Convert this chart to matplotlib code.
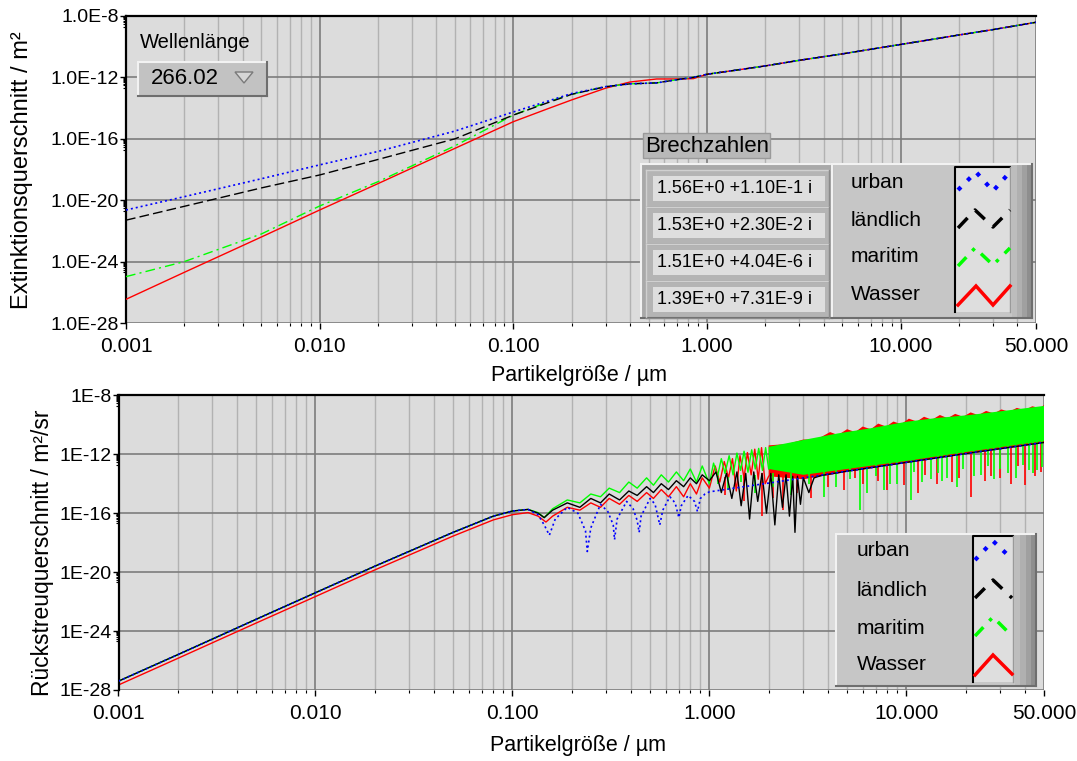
import numpy as np
import matplotlib.pyplot as plt
from matplotlib.patches import Rectangle, Polygon
from matplotlib.ticker import FixedLocator, FixedFormatter, NullFormatter, LogLocator

plt.rcParams['font.family'] = ['Liberation Sans', 'DejaVu Sans']

# ---------------- Extinktion (oben) ----------------
x_ext_small = [0.001, 0.002, 0.005, 0.01, 0.02, 0.05, 0.1, 0.15, 0.2, 0.3, 0.4, 0.55, 0.7, 0.85]
ext_urban = [2.3e-21, 1.7e-20, 2.5e-19, 2.0e-18, 1.5e-17, 3.2e-16, 5.6e-15, 2.8e-14, 8.9e-14,
             2.5e-13, 3.8e-13, 4.4e-13, 7.1e-13, 1.0e-12]
ext_laendlich = [5.0e-22, 4.0e-21, 6.3e-20, 4.4e-19, 4.5e-18, 1.0e-16, 3.5e-15, 2.2e-14, 7.9e-14,
                 2.5e-13, 3.8e-13, 4.4e-13, 7.1e-13, 1.0e-12]
ext_maritim = [1.05e-25, 1.0e-24, 6.3e-23, 4.2e-21, 1.6e-19, 3.5e-17, 3.5e-15, 2.5e-14, 7.9e-14,
               2.5e-13, 3.8e-13, 4.4e-13, 7.1e-13, 1.0e-12]
ext_wasser = [3.5e-27, 2.0e-25, 4.0e-23, 2.3e-21, 1.2e-19, 2.4e-17, 1.3e-15, 8.9e-15, 3.4e-14,
              2.0e-13, 5.0e-13, 7.9e-13, 7.9e-13, 8.3e-13]
# grosse Teilchen: alle vier Kurven fallen zusammen
x_ext_large = [1.0, 1.5, 2.0, 3.0, 5.0, 7.0, 10.0, 15.0, 20.0, 30.0, 50.0]
ext_large = [1.6e-12, 3.3e-12, 5.6e-12, 1.3e-11, 3.4e-11, 6.8e-11, 1.4e-10, 3.2e-10, 5.8e-10,
             1.3e-9, 3.9e-9]

# ---------------- Rueckstreuung (unten) ----------------
x_bs_urban = [0.001, 0.002, 0.005, 0.01, 0.02, 0.05, 0.08, 0.1, 0.12, 0.135, 0.145, 0.154, 0.165,
              0.19, 0.215, 0.235, 0.24, 0.25, 0.28, 0.305, 0.325, 0.33, 0.34, 0.38, 0.41, 0.43,
              0.44, 0.45, 0.5, 0.53, 0.56, 0.58, 0.63, 0.67, 0.7, 0.72, 0.78, 0.84, 0.87, 0.9,
              0.95, 1.0, 1.5, 2.0, 3.0, 5.0, 10.0, 20.0, 50.0]
bs_urban = [4.0e-28, 2.5e-26, 6.3e-24, 4.0e-22, 2.5e-20, 5.0e-18, 6.3e-17, 1.4e-16, 1.8e-16, 7.9e-17,
            1.6e-17, 3.2e-18, 4.0e-17, 2.5e-16, 1.0e-16, 6.3e-18, 2.5e-19, 1.0e-17, 4.0e-16, 1.3e-16,
            1.6e-17, 1.6e-18, 4.0e-17, 6.3e-16, 2.0e-16, 3.2e-17, 5.0e-18, 6.3e-17, 1.0e-15, 4.0e-16,
            1.6e-17, 1.6e-16, 1.3e-15, 5.0e-16, 5.0e-17, 3.2e-16, 1.6e-15, 6.3e-16, 1.3e-16, 1.0e-15,
            2.0e-15, 2.8e-15, 6.3e-15, 1.1e-14, 2.5e-14, 7.1e-14, 2.8e-13, 1.1e-12, 6.3e-12]

x_bs_laendlich = [0.001, 0.002, 0.005, 0.01, 0.02, 0.05, 0.08, 0.1, 0.12, 0.135, 0.145, 0.16, 0.19,
                  0.22, 0.25, 0.28, 0.31, 0.35, 0.39, 0.43, 0.48, 0.52, 0.57, 0.62, 0.68, 0.74, 0.8,
                  0.86, 0.92, 1.0, 1.08, 1.15, 1.22, 1.3, 1.38, 1.45, 1.53, 1.6, 1.68, 1.76, 1.85,
                  1.95, 2.05, 2.15, 2.25, 2.35, 2.45, 2.55, 2.65, 2.72, 2.8, 2.9, 3.0, 3.2, 3.4,
                  3.7, 5.0, 10.0, 20.0, 50.0]
bs_laendlich = [4.0e-28, 2.5e-26, 6.3e-24, 4.0e-22, 2.5e-20, 5.0e-18, 6.3e-17, 1.4e-16, 1.8e-16,
                1.0e-16, 5.0e-17, 1.6e-16, 5.0e-16, 2.5e-16, 1.0e-15, 5.0e-16, 2.0e-15, 7.9e-16,
                3.2e-15, 1.6e-15, 6.3e-15, 2.5e-15, 1.0e-14, 4.0e-15, 1.6e-14, 6.3e-15, 2.5e-14,
                1.0e-14, 4.0e-14, 1.6e-14, 6.3e-14, 2.5e-15, 5.0e-14, 1.0e-15, 6.3e-14, 3.2e-16,
                5.0e-14, 4.0e-17, 6.3e-14, 6.3e-16, 5.0e-14, 1.0e-16, 5.0e-14, 1.6e-17, 4.0e-14,
                2.5e-16, 4.0e-14, 6.3e-17, 3.2e-14, 5.0e-18, 3.2e-14, 4.0e-16, 2.5e-14, 2.5e-15,
                2.5e-14, 3.6e-14, 7.1e-14, 2.8e-13, 1.1e-12, 6.3e-12]

x_bs_maritim = [0.001, 0.002, 0.005, 0.01, 0.02, 0.05, 0.08, 0.1, 0.12, 0.135, 0.145, 0.16, 0.19,
                0.22, 0.25, 0.28, 0.31, 0.35, 0.39, 0.43, 0.48, 0.52, 0.57, 0.62, 0.68, 0.74, 0.8,
                0.86, 0.92, 1.0, 1.05, 1.1, 1.15, 1.2, 1.26, 1.32, 1.38, 1.44, 1.5, 1.57, 1.64,
                1.71, 1.78, 1.86, 1.93, 2.0]
bs_maritim = [4.0e-28, 2.5e-26, 6.3e-24, 4.0e-22, 2.5e-20, 5.0e-18, 6.3e-17, 1.4e-16, 1.8e-16,
              1.1e-16, 5.0e-17, 2.0e-16, 7.9e-16, 5.0e-16, 2.0e-15, 1.3e-15, 5.0e-15, 2.5e-15,
              1.3e-14, 5.0e-15, 2.5e-14, 7.9e-15, 4.0e-14, 1.3e-14, 6.3e-14, 1.6e-14, 1.0e-13,
              1.3e-14, 1.6e-13, 1.0e-14, 2.5e-13, 3.2e-14, 5.0e-13, 5.0e-14, 8.0e-13, 4.0e-14,
              1.2e-12, 8.0e-14, 1.6e-12, 6.0e-14, 2.0e-12, 1.0e-13, 2.5e-12, 8.0e-14, 2.8e-12,
              1.0e-13]
# dichtes Band maritim (>2 um)
x_mar_hi = [2.0, 3.0, 4.5, 6.6, 10.0, 14.0, 21.0, 32.0, 50.0]
mar_hi = [3.2e-12, 9.3e-12, 2.6e-11, 5.8e-11, 1.6e-10, 2.8e-10, 4.6e-10, 9.1e-10, 1.9e-9]
x_mar_lo = [2.0, 3.0, 5.0, 10.0, 20.0, 50.0]
mar_lo = [1.0e-13, 4.0e-14, 1.0e-13, 3.5e-13, 1.4e-12, 7.9e-12]
mar_spike_x = [1.1, 1.25, 1.45, 1.7, 2.1, 2.6, 3.2, 3.8, 4.4, 5.8, 6.3, 7.7, 9.0, 10.5, 12.0, 13.3,
               16.0, 18.0, 24.0, 28.0, 33.0, 36.0, 42.0, 46.0, 49.0,
               5.2, 7.0, 8.3, 11.0, 14.5, 15.2, 19.5, 22.0, 26.0, 30.0, 39.0, 44.0]
mar_spike_lo = [1.0e-14, 4.0e-15, 1.3e-14, 2.5e-15, 6.3e-15, 1.6e-15, 1.0e-14, 1.3e-15, 6.3e-15,
                1.6e-16, 2.5e-15, 4.0e-15, 1.0e-14, 7.9e-16, 1.3e-14, 2.0e-14, 2.5e-14, 6.3e-15,
                4.0e-14, 2.0e-14, 5.0e-14, 2.5e-14, 7.9e-14, 7.9e-14, 1.3e-13,
                2.0e-14, 3.2e-14, 1.0e-14, 6.3e-14, 5.0e-14, 1.6e-14, 1.0e-13, 3.2e-14, 1.6e-13,
                1.0e-13, 2.0e-13, 5.0e-14]
mar_spike_hi = [3e-14, 3e-14, 4e-14, 4e-14, 5e-14, 5e-14, 5e-14, 6e-14, 8e-14, 1.2e-13, 1.4e-13,
                2e-13, 3e-13, 4e-13, 5e-13, 6e-13, 9e-13, 1.2e-12, 2e-12, 2.6e-12, 3.5e-12, 4e-12,
                5.5e-12, 6.5e-12, 7.5e-12,
                2.5e-13, 4e-13, 6e-13, 1e-12, 1.8e-12, 2e-12, 3e-12, 3.5e-12, 5e-12, 6e-12, 9e-12,
                1e-11]

x_bs_wasser = [0.001, 0.002, 0.005, 0.01, 0.02, 0.05, 0.08, 0.1, 0.12, 0.135, 0.148, 0.16, 0.19,
               0.22, 0.25, 0.28, 0.31, 0.35, 0.39, 0.43, 0.48, 0.52, 0.57, 0.62, 0.68, 0.74, 0.8,
               0.86, 0.92, 1.0, 1.07, 1.13, 1.19, 1.25, 1.31, 1.37, 1.43, 1.5, 1.56, 1.63, 1.7,
               1.77, 1.84, 1.92, 2.0]
bs_wasser = [2.2e-28, 1.4e-26, 3.5e-24, 2.2e-22, 1.4e-20, 2.8e-18, 3.5e-17, 7.9e-17, 1.1e-16,
             6.3e-17, 2.5e-17, 6.3e-17, 2.5e-16, 1.6e-16, 5.0e-16, 2.5e-16, 1.0e-15, 4.0e-16,
             1.6e-15, 6.3e-16, 2.5e-15, 1.0e-15, 4.0e-15, 1.3e-15, 6.3e-15, 1.3e-15, 1.0e-14,
             2.0e-15, 2.5e-14, 5.0e-15, 1.6e-13, 1.3e-14, 3.2e-13, 2.5e-14, 5.0e-13, 3.2e-15,
             8.0e-13, 2.5e-14, 1.3e-12, 4.0e-14, 2.2e-12, 2.0e-14, 2.8e-12, 1.0e-14, 3.2e-14]
x_was_hi = [2.0, 2.5, 3.0, 3.5, 4.1, 4.5, 5.0, 5.5, 6.0, 6.6, 7.2, 7.9, 8.6, 9.4, 10.3,
            11.3, 12.3, 13.5, 14.8, 16.2, 17.7, 19.4, 21.2, 23.2, 25.4, 27.8, 30.4, 33.3, 36.4,
            39.8, 43.6, 47.7, 50.0]
was_hi = [4.0e-12, 5.0e-12, 1.0e-11, 1.0e-11, 3.2e-11, 2.0e-11, 5.0e-11, 3.2e-11,
          7.6e-11, 5.0e-11, 1.2e-10, 7.6e-11, 1.66e-10, 1.1e-10, 2.6e-10, 1.66e-10, 3.5e-10, 2.2e-10,
          4.6e-10, 2.8e-10, 5.5e-10, 3.5e-10, 6.9e-10, 4.5e-10, 8.7e-10, 5.9e-10, 1.1e-9, 7.6e-10,
          1.4e-9, 1.0e-9, 1.8e-9, 1.35e-9, 2.2e-9]
x_was_lo = [2.0, 3.0, 5.0, 10.0, 20.0, 50.0]
was_lo = [3.2e-14, 2.0e-14, 6.3e-14, 2.5e-13, 1.0e-12, 5.6e-12]
was_spike_x = [1.2, 1.5, 1.85, 2.1, 2.36, 2.8, 3.3, 4.0, 4.8, 6.0, 8.0, 9.7, 11.5, 14.3, 17.0, 21.3,
               25.0, 30.0, 34.0, 40.0, 45.0, 5.5, 7.2, 12.5, 18.5, 27.0, 37.0, 48.0]
was_spike_lo = [1.6e-15, 6.3e-16, 6.3e-17, 1.0e-15, 1.6e-16, 2.5e-15, 1.0e-15, 6.3e-15, 4.0e-15,
                1.0e-14, 4.0e-15, 7.9e-15, 2.5e-15, 1.0e-14, 1.3e-14, 1.3e-15, 1.6e-14, 2.5e-14,
                1.0e-14, 7.9e-15, 3.2e-14, 2.5e-14, 1.6e-14, 4.0e-14, 2.5e-14, 3.2e-14, 1.6e-13,
                6.3e-14]
was_spike_hi = [3e-14, 4e-14, 5e-14, 5e-14, 5e-14, 5e-14, 5e-14, 7e-14, 9e-14, 1.4e-13, 2.4e-13,
                3.2e-13, 4.5e-13, 7e-13, 9e-13, 1.4e-12, 2e-12, 2.6e-12, 3.2e-12, 4.2e-12, 5e-12,
                1.2e-13, 1.8e-13, 5e-13, 1.2e-12, 2.2e-12, 3.6e-12, 5.5e-12]

# ---------------- Achsen / Texte ----------------
x_ticks = [0.001, 0.01, 0.1, 1.0, 10.0, 50.0]
x_tick_labels = ['0.001', '0.010', '0.100', '1.000', '10.000', '50.000']
y_ticks = [1e-28, 1e-24, 1e-20, 1e-16, 1e-12, 1e-8]
y_labels_top = ['1.0E-28', '1.0E-24', '1.0E-20', '1.0E-16', '1.0E-12', '1.0E-8']
y_labels_bot = ['1E-28', '1E-24', '1E-20', '1E-16', '1E-12', '1E-8']
series_names = ['urban', 'ländlich', 'maritim', 'Wasser']
brechzahlen = ['1.56E+0 +1.10E-1 i', '1.53E+0 +2.30E-2 i', '1.51E+0 +4.04E-6 i', '1.39E+0 +7.31E-9 i']
wellenlaenge = '266.02'

C_URB, C_LAN, C_MAR, C_WAS = '#0000ff', '#000000', '#00ff00', '#ff0000'
LS_URB = (0, (1.2, 1.8))
LS_LAN = (0, (7, 3))
LS_MAR = (0, (7, 3, 1.5, 3))

W, H = 1077, 761
fig = plt.figure(figsize=(W / 100, H / 100), dpi=100)
fig.patch.set_facecolor('white')


def setup_axes(ax, ylabels):
    ax.set_facecolor('#dcdcdc')
    ax.set_xscale('log')
    ax.set_yscale('log')
    ax.set_xlim(0.001, 50)
    ax.set_ylim(1e-28, 1e-8)
    ax.xaxis.set_major_locator(FixedLocator(x_ticks))
    ax.xaxis.set_major_formatter(FixedFormatter(x_tick_labels))
    ax.xaxis.set_minor_locator(LogLocator(base=10, subs=np.arange(2, 10)))
    ax.xaxis.set_minor_formatter(NullFormatter())
    ax.yaxis.set_major_locator(FixedLocator(y_ticks))
    ax.yaxis.set_major_formatter(FixedFormatter(ylabels))
    minors = [k * t / 10 for t in y_ticks for k in range(2, 10)]
    ax.yaxis.set_minor_locator(FixedLocator(minors))
    ax.yaxis.set_minor_formatter(NullFormatter())
    ax.grid(True, which='minor', axis='x', color='#b2b2b2', lw=1.0)
    ax.grid(True, which='major', axis='x', color='#7c7c7c', lw=1.2)
    ax.grid(True, which='major', axis='y', color='#7c7c7c', lw=1.2)
    ax.set_axisbelow(True)
    ax.tick_params(which='major', direction='out', length=4, width=1, color='black')
    ax.tick_params(which='minor', direction='out', length=2.5, width=0.8, color='black')
    ax.tick_params(axis='x', which='major', pad=6, labelsize=15)
    ax.tick_params(axis='y', which='major', pad=1, labelsize=14)
    for s in ['right', 'bottom']:
        ax.spines[s].set_visible(False)
    for s in ['top', 'left']:
        ax.spines[s].set_color('black')
        ax.spines[s].set_linewidth(1.6)


# oben
ax1 = fig.add_axes([126 / W, 1 - 323 / H, (1036 - 126) / W, (323 - 16) / H])
setup_axes(ax1, y_labels_top)
ax1.plot(x_ext_small + x_ext_large, ext_wasser + ext_large, color=C_WAS, lw=1.0, zorder=3)
ax1.plot(x_ext_small + x_ext_large, ext_maritim + ext_large, color=C_MAR, lw=1.0, ls=LS_MAR, zorder=4)
ax1.plot(x_ext_small + x_ext_large, ext_laendlich + ext_large, color=C_LAN, lw=1.0, ls=LS_LAN, zorder=5)
ax1.plot(x_ext_small + x_ext_large, ext_urban + ext_large, color=C_URB, lw=1.2, ls=LS_URB, zorder=6)

# unten
ax2 = fig.add_axes([118.5 / W, 1 - 690 / H, (1044 - 118.5) / W, (690 - 395.3) / H])
setup_axes(ax2, y_labels_bot)
ax2.fill(x_was_hi + x_was_lo[::-1], was_hi + was_lo[::-1], color=C_WAS, lw=0, zorder=2)
ax2.vlines(was_spike_x, was_spike_lo, was_spike_hi, color=C_WAS, lw=1.2, zorder=2)
ax2.plot(x_bs_wasser, bs_wasser, color=C_WAS, lw=1.0, zorder=2)
ax2.fill(x_mar_hi + x_mar_lo[::-1], mar_hi + mar_lo[::-1], color=C_MAR, lw=0, zorder=3)
ax2.vlines(mar_spike_x, mar_spike_lo, mar_spike_hi, color=C_MAR, lw=1.2, zorder=3)
ax2.plot(x_bs_maritim, bs_maritim, color=C_MAR, lw=1.0, zorder=3)
ax2.plot(x_bs_laendlich, bs_laendlich, color=C_LAN, lw=1.0, zorder=4)
ax2.plot(x_bs_urban, bs_urban, color=C_URB, lw=1.2, ls=LS_URB, zorder=5)

# ---------------- Bedienelemente (Overlay in Pixeln) ----------------
ov = fig.add_axes([0, 0, 1, 1], zorder=10)
ov.set_xlim(0, W)
ov.set_ylim(H, 0)
ov.axis('off')
ov.patch.set_alpha(0)


def raised(x0, y0, x1, y1, face, light='#f2f2f2', dark='#6e6e6e', lw=1.5):
    ov.add_patch(Rectangle((x0, y0), x1 - x0, y1 - y0, facecolor=face, edgecolor='none'))
    ov.plot([x0, x1], [y0, y0], color=light, lw=lw)
    ov.plot([x0, x0], [y0, y1], color=light, lw=lw)
    ov.plot([x0, x1], [y1, y1], color=dark, lw=lw)
    ov.plot([x1, x1], [y0, y1], color=dark, lw=lw)


# Achsentitel
ov.text(579, 376, 'Partikelgröße / µm', ha='center', va='center', fontsize=15.5)
ov.text(578, 745, 'Partikelgröße / µm', ha='center', va='center', fontsize=15.5)
ov.text(22, 170, 'Extinktionsquerschnitt / m²', ha='center', va='center', rotation=90, fontsize=17)
ov.text(43, 553, 'Rückstreuquerschnitt / m²/sr', ha='center', va='center', rotation=90, fontsize=16.5)

# Wellenlaenge
ov.text(140, 42, 'Wellenlänge', ha='left', va='center', fontsize=14.5)
raised(138, 62, 267, 96, '#c2c2c2')
ov.text(151, 79, wellenlaenge, ha='left', va='center', fontsize=16)
ov.add_patch(Polygon([(235, 72), (253, 72), (244, 83)], closed=True, facecolor='#d6d6d6',
                     edgecolor='#7a7a7a', lw=1))

# Brechzahlen
ov.add_patch(Rectangle((643, 133), 127, 25, facecolor='#b8b8b8', edgecolor='#9a9a9a', lw=1))
ov.text(645, 146, 'Brechzahlen', ha='left', va='center', fontsize=16)
raised(641, 164, 832, 318, '#a9a9a9')
row_y = [176, 213, 250, 287]
for y0, txt in zip(row_y, brechzahlen):
    raised(646, y0 - 6, 829, y0 + 31, '#b4b4b4', light='#d0d0d0', dark='#8a8a8a', lw=1)
    ov.add_patch(Rectangle((653, y0), 172, 25, facecolor='#dedede', edgecolor='none'))
    ov.text(657, y0 + 12.5, txt, ha='left', va='center', fontsize=13)


def legend_panel(x0, y0, x1, y1, label_x, label_ys, box, zig):
    raised(x0, y0, x1, y1, '#c6c6c6')
    for i, c in enumerate(['#bdbdbd', '#b0b0b0', '#a0a0a0', '#8e8e8e']):
        ov.add_patch(Rectangle((box[2] + 2 + i * (x1 - box[2] - 2) / 4, y0 + 1),
                               (x1 - box[2] - 2) / 4, y1 - y0 - 2, facecolor=c, edgecolor='none'))
    bx0, by0, bx1, by1 = box
    ov.add_patch(Rectangle((bx0, by0), bx1 - bx0, by1 - by0, facecolor='#dedede', edgecolor='none'))
    ov.plot([bx0, bx0, bx1], [by1, by0, by0], color='black', lw=1.5)
    ov.plot([bx1, bx1], [by0, by1], color='#9a9a9a', lw=1)
    styles = [(C_URB, (0, (1, 2.2)), 3.0), (C_LAN, (0, (4, 3)), 2.5),
              (C_MAR, (0, (3.5, 2.5, 1, 2.5)), 2.5), (C_WAS, '-', 2.5)]
    for name, ly, (c, ls, lw), (zx, zy) in zip(series_names, label_ys, styles, zig):
        ov.text(label_x, ly, name, ha='left', va='center', fontsize=15)
        ov.plot(zx, zy, color=c, ls=ls, lw=lw, solid_joinstyle='miter')


legend_panel(832, 164, 1032, 318, 851, [182, 220, 257, 295], (955, 167, 1010, 312),
             [([958, 976, 993, 1010], [190, 172, 191, 172]),
              ([958, 975, 993, 1010], [228, 210, 227, 210]),
              ([958, 975, 993, 1010], [266, 248, 265, 248]),
              ([958, 976, 993, 1010], [305, 286, 305, 286])])
legend_panel(836, 534, 1036, 686, 857, [551, 590, 628, 665], (973, 536, 1013, 682),
             [([975, 993, 1012], [560, 541, 559]),
              ([975, 993, 1012], [598, 580, 598]),
              ([975, 993, 1012], [636, 617, 636]),
              ([975, 993, 1012], [675, 655, 674])])

fig.savefig('out.png', dpi=100)
